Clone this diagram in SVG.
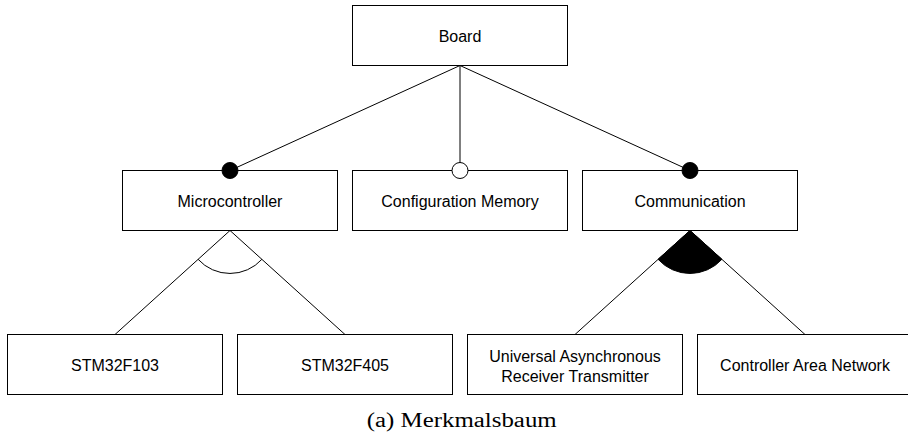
<svg xmlns="http://www.w3.org/2000/svg" width="908" height="436" viewBox="0 0 908 436">
<style>
.box{fill:#fff;stroke:#000;stroke-width:1}
.lbl{font-family:"Liberation Sans",Arial,sans-serif;font-size:16px;fill:#000;text-anchor:middle}
.ln{stroke:#000;stroke-width:1;fill:none}
.cap{font-family:"Liberation Serif","DejaVu Serif",serif;font-size:20.5px;fill:#000;text-anchor:middle}
</style>
<rect width="908" height="436" fill="#fff"/>
<g id="board"><rect class="box" x="352.5" y="5.5" width="215" height="60"/><text class="lbl" x="460" y="41.5">Board</text></g>
<g id="microcontroller"><rect class="box" x="122.5" y="170.5" width="215" height="60"/><text class="lbl" x="230" y="206.5">Microcontroller</text></g>
<g id="configmemory"><rect class="box" x="352.5" y="170.5" width="215" height="60"/><text class="lbl" x="460" y="206.5">Configuration Memory</text></g>
<g id="communication"><rect class="box" x="582.5" y="170.5" width="215" height="60"/><text class="lbl" x="690" y="206.5">Communication</text></g>
<g id="stm32f103"><rect class="box" x="7.5" y="334.5" width="215" height="60"/><text class="lbl" x="115" y="370.5">STM32F103</text></g>
<g id="stm32f405"><rect class="box" x="237.5" y="334.5" width="215" height="60"/><text class="lbl" x="345" y="370.5">STM32F405</text></g>
<g id="uart"><rect class="box" x="467.5" y="334.5" width="215" height="60"/><text class="lbl" x="575" y="361.5">Universal Asynchronous</text><text class="lbl" x="575" y="381.5">Receiver Transmitter</text></g>
<g id="can"><rect class="box" x="697.5" y="334.5" width="215" height="60"/><text class="lbl" x="805" y="370.5">Controller Area Network</text></g>
<g id="connectors">
<line class="ln" x1="460" y1="65.5" x2="230" y2="170.5"/>
<line class="ln" x1="460" y1="65.5" x2="460" y2="170.5"/>
<line class="ln" x1="460" y1="65.5" x2="690" y2="170.5"/>
<line class="ln" x1="230" y1="230.5" x2="115" y2="334.5"/>
<line class="ln" x1="230" y1="230.5" x2="345" y2="334.5"/>
<line class="ln" x1="690" y1="230.5" x2="575" y2="334.5"/>
<line class="ln" x1="690" y1="230.5" x2="805" y2="334.5"/>
<path class="ln" d="M198.1,259.3 A43,43 0 0,0 261.9,259.3"/>
<path d="M690,230.5 L658.1,259.3 A43,43 0 0,0 721.9,259.3 Z" fill="#000" stroke="#000" stroke-width="1"/>
<circle cx="230" cy="170.5" r="8" fill="#000" stroke="#000"/>
<circle cx="460" cy="170.5" r="8" fill="#fff" stroke="#000"/>
<circle cx="690" cy="170.5" r="8" fill="#000" stroke="#000"/>
</g>
<text class="cap" x="461.7" y="427" textLength="190" lengthAdjust="spacingAndGlyphs">(a) Merkmalsbaum</text>
</svg>
